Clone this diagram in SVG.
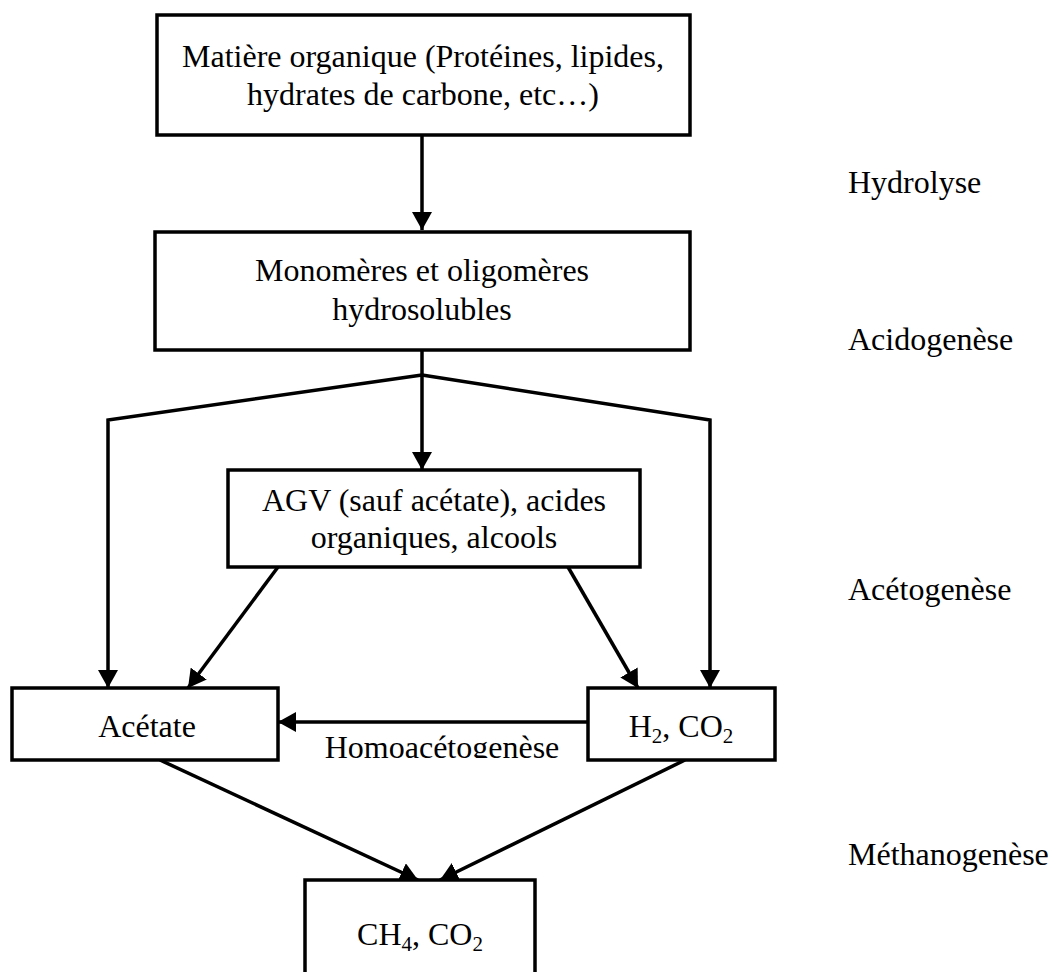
<svg xmlns="http://www.w3.org/2000/svg" width="1051" height="972" viewBox="0 0 1051 972">
<style>
.box{fill:#fff;stroke:#000;stroke-width:3.5}
.ln{fill:none;stroke:#000;stroke-width:3.5}
text{font-family:"Liberation Serif","Times New Roman",serif;font-size:32px;fill:#000}
.c{text-anchor:middle}
.sub{font-size:21px}
</style>
<defs>
<marker id="ah" viewBox="0 0 18 20" refX="18" refY="10" markerWidth="18" markerHeight="20" orient="auto" markerUnits="userSpaceOnUse">
<path d="M0,0 L18,10 L0,20 z" fill="#000"/>
</marker>
<clipPath id="clipHomo"><rect x="0" y="700" width="1051" height="58"/></clipPath>
</defs>
<rect width="1051" height="972" fill="#fff"/>
<g id="connectors">
<line class="ln" x1="422" y1="135" x2="422" y2="230" marker-end="url(#ah)"/>
<line class="ln" x1="422" y1="350" x2="422" y2="470" marker-end="url(#ah)"/>
<polyline class="ln" points="422,375 108,420 108,688" marker-end="url(#ah)"/>
<polyline class="ln" points="422,375 710,420 710,688" marker-end="url(#ah)"/>
<line class="ln" x1="278" y1="567" x2="188" y2="688" marker-end="url(#ah)"/>
<line class="ln" x1="568" y1="567" x2="638" y2="688" marker-end="url(#ah)"/>
<line class="ln" x1="588" y1="722" x2="278" y2="722" marker-end="url(#ah)"/>
<line class="ln" x1="160" y1="760" x2="418" y2="880" marker-end="url(#ah)"/>
<line class="ln" x1="685" y1="760" x2="440" y2="880" marker-end="url(#ah)"/>
</g>
<g id="n1">
<rect class="box" x="157" y="15" width="533" height="120"/>
<text class="c" x="423" y="67">Matière organique (Protéines, lipides,</text>
<text class="c" x="423" y="105">hydrates de carbone, etc…)</text>
</g>
<g id="n2">
<rect class="box" x="155" y="232" width="535" height="118"/>
<text class="c" x="422" y="281">Monomères et oligomères</text>
<text class="c" x="422" y="320">hydrosolubles</text>
</g>
<g id="n3">
<rect class="box" x="228" y="470" width="412" height="97"/>
<text class="c" x="434" y="511">AGV (sauf acétate), acides</text>
<text class="c" x="434" y="548">organiques, alcools</text>
</g>
<g id="n4">
<rect class="box" x="12" y="688" width="266" height="72"/>
<text class="c" x="147" y="737">Acétate</text>
</g>
<g id="n5">
<rect class="box" x="588" y="688" width="187" height="72"/>
<text class="c" x="681" y="737">H<tspan class="sub" dy="6">2</tspan><tspan dy="-6">, CO</tspan><tspan class="sub" dy="6">2</tspan></text>
</g>
<g id="n6">
<rect class="box" x="305" y="880" width="230" height="100"/>
<text class="c" x="420" y="945">CH<tspan class="sub" dy="6">4</tspan><tspan dy="-6">, CO</tspan><tspan class="sub" dy="6">2</tspan></text>
</g>
<g id="labels">
<text x="442" y="758" class="c" clip-path="url(#clipHomo)">Homoacétogenèse</text>
<text x="848" y="193">Hydrolyse</text>
<text x="848" y="350">Acidogenèse</text>
<text x="848" y="600">Acétogenèse</text>
<text x="848" y="865">Méthanogenèse</text>
</g>
</svg>
